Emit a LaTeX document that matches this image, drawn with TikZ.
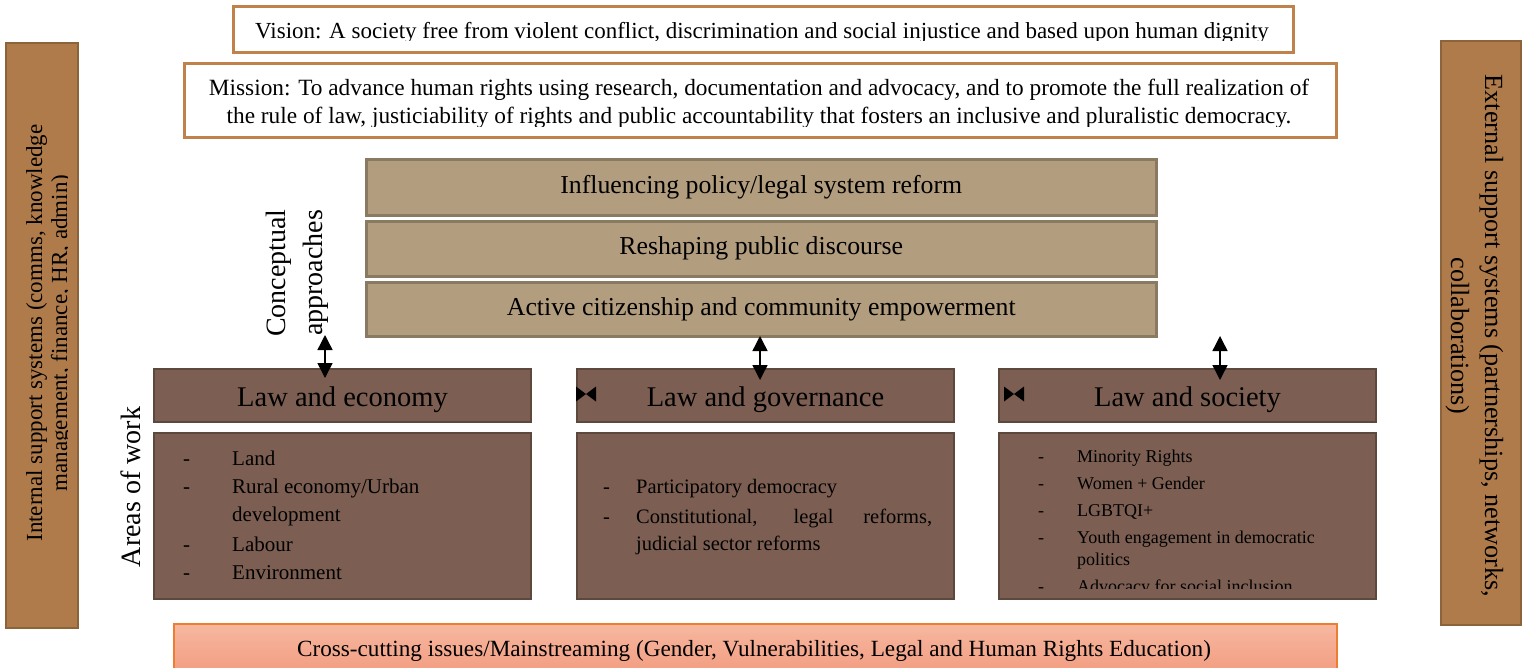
\documentclass[tikz,border=0pt]{standalone}
\usepackage{fontspec}
\setmainfont{Liberation Serif}
\usetikzlibrary{arrows.meta}
\definecolor{visionborder}{HTML}{C0824B}
\definecolor{barfill}{HTML}{B07B4A}
\definecolor{barborder}{HTML}{8C643C}
\definecolor{concfill}{HTML}{B29D7E}
\definecolor{concborder}{HTML}{8A7A62}
\definecolor{lawfill}{HTML}{7C5F52}
\definecolor{lawborder}{HTML}{5D483E}
\definecolor{crosstop}{HTML}{F6B8A0}
\definecolor{crossbot}{HTML}{F29C80}
\definecolor{crossborder}{HTML}{ED7D31}
\tikzset{
  framebox/.style={draw=visionborder, line width=2.5pt, fill=white, inner sep=0pt, anchor=north west},
  sidebar/.style={draw=barborder, fill=barfill, line width=2pt, inner sep=0pt, anchor=north west},
  concbox/.style={draw=concborder, fill=concfill, line width=2.5pt, inner sep=0pt, anchor=north west,
    minimum width=790pt, font=\fontsize{25.8}{30}\selectfont},
  lawhead/.style={draw=lawborder, fill=lawfill, line width=2pt, inner sep=0pt, anchor=north west,
    minimum width=377pt, minimum height=53pt},
  lawbody/.style={draw=lawborder, fill=lawfill, line width=2pt, inner sep=0pt, anchor=north west,
    minimum width=377pt, minimum height=166pt},
  dblarrow/.style={{Triangle[width=15pt,length=15pt]}-{Triangle[width=15pt,length=15pt]}, line width=1.4pt, black},
  txt/.style={inner sep=0pt, anchor=base},
  headtxt/.style={inner sep=0pt, anchor=base, font=\fontsize{28.5}{32}\selectfont},
  listtxt/.style={inner sep=0pt, anchor=base west},
}
\newcommand{\dashitem}[1]{\makebox[#1][l]{-}}
\begin{document}
\begin{tikzpicture}[x=1pt,y=-1pt]
\clip (0,0) rectangle (1528,667);
\fill[white] (0,0) rectangle (1528,667);

% Vision
\node[framebox, minimum width=1060pt, minimum height=46pt] (vision) at (232,5) {};
\begin{scope}
\clip (232,5) rectangle (1292,40);
\node[txt, font=\fontsize{23}{26}\selectfont] (visiontext) at (762,38)
  {Vision: A society free from violent conflict, discrimination and social injustice and based upon human dignity};
\end{scope}

% Mission
\node[framebox, minimum width=1152pt, minimum height=74pt] (mission) at (183,62) {};
\begin{scope}
\clip (183,62) rectangle (1335,126);
\node[txt] (missiontext) at (759,95) {\parbox[t]{1140pt}{\centering\fontsize{23.3}{28}\selectfont
  Mission: To advance human rights using research, documentation and advocacy, and to promote the full realization of\\
  the rule of law, justiciability of rights and public accountability that fosters an inclusive and pluralistic democracy.}};
\end{scope}

% Side bars
\node[sidebar, minimum width=72pt, minimum height=585pt] (internal) at (5,42) {};
\begin{scope}
\clip (5,42) rectangle (67,627);
\node[txt, rotate=90] (internaltext) at (42,333) {\parbox[t]{560pt}{\centering\fontsize{23}{25}\selectfont
  Internal support systems (comms, knowledge\\ management, finance, HR, admin)}};
\end{scope}
\node[sidebar, minimum width=80pt, minimum height=584pt] (external) at (1440,40) {};
\node[txt, rotate=-90] (externaltext) at (1485,336) {\parbox[t]{580pt}{\centering\fontsize{26.2}{34}\selectfont
  External support systems (partnerships, networks,\\ collaborations)}};

% Conceptual approaches
\node[concbox, minimum height=56pt] (c1) at (365,158) {Influencing policy/legal system reform};
\node[concbox, minimum height=55pt] (c2) at (365,220) {Reshaping public discourse};
\node[concbox, minimum height=54pt] (c3) at (365,281) {Active citizenship and community empowerment};
\node[txt, rotate=90] (conclabel) at (285,273) {\parbox[t]{200pt}{\centering\fontsize{28}{37}\selectfont
  Conceptual\\ approaches}};

% Areas of work
\node[txt, rotate=90, font=\fontsize{28}{34}\selectfont] (areaslabel) at (140,487) {Areas of work};

% Law headers
\node[lawhead] (econ) at (153,368) {};
\node[lawhead] (gov) at (576,368) {};
\node[lawhead] (soc) at (998,368) {};
\node[headtxt] (econtext) at ([yshift=-11pt]econ.center) {Law and economy};
\node[headtxt] (govtext) at ([yshift=-11pt]gov.center) {Law and governance};
\node[headtxt] (soctext) at ([yshift=-11pt]soc.center) {Law and society};

% Bowties
\fill[black] (576,386.5) -- (586,394) -- (576,401.5) -- cycle;
\fill[black] (596,386.5) -- (586,394) -- (596,401.5) -- cycle;
\fill[black] (1004,386.5) -- (1014,394) -- (1004,401.5) -- cycle;
\fill[black] (1024,386.5) -- (1014,394) -- (1024,401.5) -- cycle;

% Arrows
\coordinate (a1t) at (325,335);
\coordinate (a1b) at (325,378);
\coordinate (a2t) at (760,336);
\coordinate (a2b) at (760,380);
\coordinate (a3t) at (1220,336);
\coordinate (a3b) at (1220,380);
\draw[dblarrow] (a1t) -- (a1b);
\draw[dblarrow] (a2t) -- (a2b);
\draw[dblarrow] (a3t) -- (a3b);

% Law bodies
\node[lawbody] (econbody) at (153,432) {};
\node[lawbody] (govbody) at (576,432) {};
\node[lawbody] (socbody) at (998,432) {};

\node[listtxt] (econlist) at (183,465) {\parbox[t]{340pt}{\raggedright\fontsize{21}{27.5}\selectfont
  \dashitem{49pt}Land\\[1pt]
  \dashitem{49pt}Rural economy/Urban\\
  \hspace*{49pt}development\\[3pt]
  \dashitem{49pt}Labour\\[0pt]
  \dashitem{49pt}Environment}};

\node[listtxt] (govlist) at (603,493) {\parbox[t]{340pt}{\raggedright\fontsize{20.5}{27}\selectfont
  \dashitem{33pt}Participatory democracy\\[3pt]
  \dashitem{33pt}\makebox[296pt][s]{Constitutional, legal reforms,}\\
  \hspace*{33pt}judicial sector reforms}};

\begin{scope}
\clip (998,432) rectangle (1376,588);
\node[listtxt] (soclist) at (1038,462) {\parbox[t]{330pt}{\raggedright\fontsize{18}{22}\selectfont
  \dashitem{39pt}Minority Rights\\[5pt]
  \dashitem{39pt}Women + Gender\\[5pt]
  \dashitem{39pt}LGBTQI+\\[5pt]
  \dashitem{39pt}Youth engagement in democratic\\
  \hspace*{39pt}politics\\[5pt]
  \dashitem{39pt}Advocacy for social inclusion}};
\end{scope}

% Cross-cutting
\node[draw=crossborder, line width=2pt, top color=crosstop, bottom color=crossbot, inner sep=0pt,
  anchor=north west, minimum width=1163pt, minimum height=50pt] (cross) at (173,623) {};
\node[txt, font=\fontsize{23.2}{26}\selectfont] (crosstext) at (754,656)
  {Cross-cutting issues/Mainstreaming (Gender, Vulnerabilities, Legal and Human Rights Education)};
\end{tikzpicture}
\end{document}
